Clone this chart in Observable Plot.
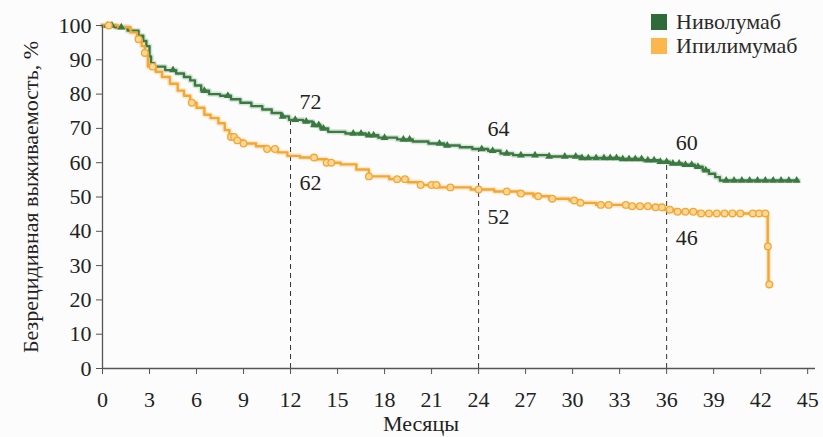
<!DOCTYPE html>
<html>
<head>
<meta charset="utf-8">
<script src="https://cdn.jsdelivr.net/npm/d3@7"></script>
<script src="https://cdn.jsdelivr.net/npm/@observablehq/plot@0.6"></script>
<style>
  html, body { margin: 0; padding: 0; background: #fcfcfc; }
  #wrap { position: relative; width: 823px; height: 437px; font-family: "Liberation Serif", serif; }
  #chart svg, #chart svg text { font-family: "Liberation Serif", serif !important; }
  #legend { position: absolute; left: 651px; top: 10px; font-size: 22px; color: #2a2a2a; line-height: 24px; }
  #legend .row { display: flex; align-items: center; height: 24px; }
  #legend .sw { width: 16px; height: 16px; margin-right: 9px; }
</style>
</head>
<body>
<div id="wrap"><div id="chart"></div><div id="legend"></div></div>
<script>
// ---- Data ----
const seriesNames = ["Ниволумаб", "Ипилимумаб"];
const seriesColors = ["#3a7a40", "#f5a630"];
const legendColors = ["#2f6a3b", "#fdb64c"];

const nivoTime = [0, 0.8, 1.6, 2.3, 2.6, 2.8, 3.0, 3.1, 3.3, 4.0, 4.7, 5.2, 5.6, 5.9, 6.3, 6.8, 7.5, 8.2, 8.8, 9.5, 10.2, 10.8, 11.4, 11.9, 12.8, 13.4, 13.9, 14.4, 15.5, 16.8, 17.6, 18.8, 19.8, 20.8, 21.8, 22.8, 23.6, 24.6, 25.4, 26.2, 28.5, 30.5, 33.0, 34.5, 35.5, 36.2, 37.0, 37.8, 38.3, 38.7, 39.1, 39.4, 44.4];
const nivoSurv = [100, 99.5, 98.5, 97, 95.5, 94, 91, 89, 88, 87, 86, 85, 84, 82.5, 81, 80, 79.5, 78.5, 77.5, 76.5, 75.5, 74.5, 73.5, 72.5, 72, 71, 70, 69, 68.5, 68, 67.3, 66.8, 66.2, 65.6, 65, 64.5, 64, 63.5, 62.7, 62.2, 61.8, 61.4, 61.1, 60.7, 60.3, 59.8, 59.4, 58.8, 57.8, 56.8, 55.8, 54.8, 54.8];
const nivoCensor = [0.3, 0.6, 1.2, 4.5, 6.5, 8.0, 11.5, 12.3, 13.0, 13.5, 13.8, 14.1, 16.0, 16.5, 17.0, 17.3, 18.0, 19.2, 19.6, 21.5, 22.0, 24.2, 24.9, 25.8, 26.7, 27.6, 28.5, 29.5, 30.2, 30.6, 31.0, 31.5, 32.0, 32.4, 32.8, 33.2, 33.6, 34.0, 34.4, 34.8, 35.2, 35.6, 36.0, 36.4, 36.8, 37.2, 37.6, 38.0, 38.5, 39.8, 40.3, 40.8, 41.3, 41.8, 42.3, 42.8, 43.3, 43.8, 44.3];

const ipiTime = [0, 1.0, 1.8, 2.2, 2.5, 2.7, 2.9, 3.4, 3.8, 4.3, 4.8, 5.2, 5.6, 6.0, 6.5, 6.9, 7.4, 7.8, 8.1, 8.5, 9.0, 9.8, 10.5, 11.2, 11.8, 12.6, 13.6, 14.3, 15.2, 16.2, 17.0, 18.3, 19.5, 20.3, 21.5, 23.5, 25.0, 26.5, 27.5, 28.5, 29.8, 30.5, 31.5, 33.5, 35.0, 35.8, 36.5, 38.0, 42.45, 42.5, 42.7];
const ipiSurv = [100, 99.5, 98, 96, 94, 92, 88, 86.5, 85, 83, 81, 79.5, 77.5, 76, 74, 73, 71.5, 69.5, 67.5, 66.5, 65.6, 64.8, 64, 63, 62, 61.5, 61, 60, 59.5, 58, 56, 55.2, 54.3, 53.5, 52.8, 52.2, 51.6, 51, 50.2, 49.5, 49, 48.3, 47.7, 47.3, 47, 46.3, 45.7, 45.2, 35.6, 24.5, 24.5];
const ipiCensor = [0.4, 2.3, 2.7, 3.2, 5.7, 8.2, 8.4, 8.6, 9.0, 10.5, 11.0, 13.5, 14.3, 14.6, 17.0, 18.8, 19.3, 20.3, 21.0, 21.3, 22.2, 24.0, 25.8, 26.7, 27.8, 28.7, 30.1, 30.5, 31.8, 32.3, 33.4, 33.8, 34.3, 34.8, 35.3, 35.7, 36.2, 36.7, 37.2, 37.7, 38.2, 38.7, 39.2, 39.7, 40.2, 40.7, 41.5, 41.9, 42.3, 42.46, 42.55];

const markMonths = [12, 24, 36];
const nivoMarkVals = [72, 64, 60];
const ipiMarkVals = [62, 52, 46];

const xTicks = [0, 3, 6, 9, 12, 15, 18, 21, 24, 27, 30, 33, 36, 39, 42, 45];
const yTicks = [0, 10, 20, 30, 40, 50, 60, 70, 80, 90, 100];
const xLabel = "Месяцы";
const yLabel = "Безрецидивная выживаемость, %";

// ---- Build tables ----
const toSteps = (T, S) => T.map((t, i) => ({t, s: S[i]}));
const survAt = (T, S, t) => { let v = S[0]; for (let i = 0; i < T.length; i++) if (T[i] <= t) v = S[i]; return v; };
const nivoLine = toSteps(nivoTime, nivoSurv);
const ipiLine = toSteps(ipiTime, ipiSurv);
const nivoMarks = nivoCensor.map(t => ({t, s: survAt(nivoTime, nivoSurv, t)}));
const ipiMarks = ipiCensor.map(t => ({t, s: survAt(ipiTime, ipiSurv, t)}));
const rules = markMonths.map((m, i) => ({m, top: nivoMarkVals[i], g: nivoMarkVals[i], o: ipiMarkVals[i]}));

const FONT = "Liberation Serif, serif";
const chart = Plot.plot({
  width: 823,
  height: 437,
  marginLeft: 102,
  marginRight: 8,
  marginTop: 25,
  marginBottom: 69,
  style: {fontFamily: FONT, fontSize: "22px", color: "#222", background: "transparent"},
  x: {domain: [0, 45.5]},
  y: {domain: [0, 100]},
  marks: [
    Plot.ruleX(rules, {x: "m", y1: 0, y2: "top", stroke: "#333", strokeWidth: 1, strokeDasharray: "5,4"}),
    Plot.line(nivoLine, {x: "t", y: "s", curve: "step-after", stroke: seriesColors[0], strokeWidth: 5.5, strokeOpacity: 0.18}),
    Plot.line(ipiLine, {x: "t", y: "s", curve: "step-after", stroke: seriesColors[1], strokeWidth: 5.5, strokeOpacity: 0.2}),
    Plot.line(nivoLine, {x: "t", y: "s", curve: "step-after", stroke: seriesColors[0], strokeWidth: 2.4}),
    Plot.line(ipiLine, {x: "t", y: "s", curve: "step-after", stroke: seriesColors[1], strokeWidth: 2.4}),
    Plot.dot(nivoMarks, {x: "t", y: "s", symbol: "triangle", r: 2.9, fill: seriesColors[0], stroke: "none"}),
    Plot.dot(ipiMarks, {x: "t", y: "s", symbol: "circle", r: 3.3, fill: "#fbd89a", stroke: seriesColors[1], strokeWidth: 1.3}),
    Plot.text(rules, {x: "m", y: "g", text: d => String(d.g), textAnchor: "start", dx: 9, dy: -20, fill: "#222", fontSize: 22, fontFamily: FONT}),
    Plot.text(rules, {x: "m", y: "o", text: d => String(d.o), textAnchor: "start", dx: 9, dy: 27, fill: "#222", fontSize: 22, fontFamily: FONT}),
    Plot.ruleY([0], {stroke: "#555", strokeWidth: 1.3}),
    Plot.ruleX([0], {stroke: "#555", strokeWidth: 1.3}),
    Plot.axisX({ticks: xTicks, tickSize: 6, tickPadding: 17, label: null, stroke: "#555", fill: "#222", fontSize: 22, fontFamily: FONT}),
    Plot.axisY({ticks: yTicks, tickSize: 6, tickPadding: 5, label: null, stroke: "#555", fill: "#222", fontSize: 22, fontFamily: FONT}),
    Plot.text([xLabel], {frameAnchor: "bottom", text: d => d, textAnchor: "middle", lineAnchor: "middle", dx: -38, dy: 55, fill: "#222", fontSize: 22, fontFamily: FONT}),
    Plot.text([yLabel], {frameAnchor: "left", text: d => d, textAnchor: "middle", lineAnchor: "middle", rotate: -90, dx: -72, fill: "#222", fontSize: 22, fontFamily: FONT})
  ]
});
document.getElementById("chart").appendChild(chart);

const legend = document.getElementById("legend");
seriesNames.forEach((name, i) => {
  const row = document.createElement("div");
  row.className = "row";
  const sw = document.createElement("div");
  sw.className = "sw";
  sw.style.background = legendColors[i];
  const tx = document.createElement("span");
  tx.textContent = name;
  row.appendChild(sw);
  row.appendChild(tx);
  legend.appendChild(row);
});
</script>
</body>
</html>
